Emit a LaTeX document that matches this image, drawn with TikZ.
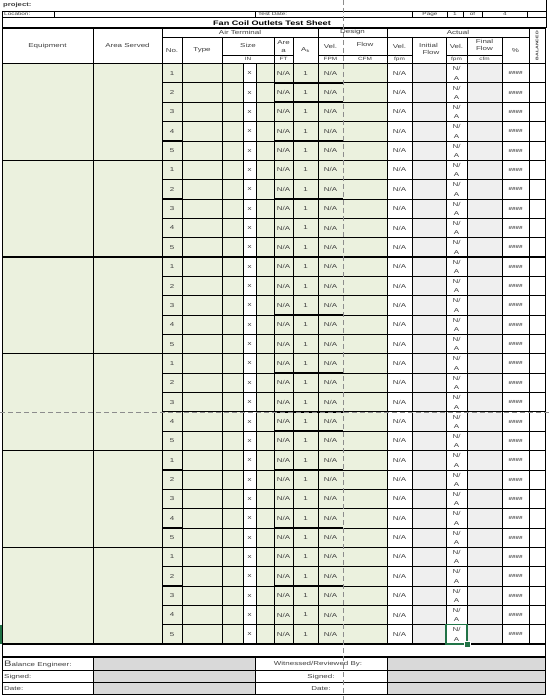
\documentclass[tikz,border=0pt]{standalone}
\usepackage{fontspec}
\setmainfont{Liberation Sans}[FakeStretch=1.4]
\definecolor{cgreen}{HTML}{EBF1DE}
\definecolor{cgray}{HTML}{EFEFEF}
\definecolor{cdgray}{HTML}{D9D9D9}
\definecolor{txt}{HTML}{3F3F3F}
\definecolor{xlgreen}{HTML}{217346}
\definecolor{pagebrk}{HTML}{8C8C8C}
\begin{document}
\begin{tikzpicture}[x=1pt,y=-1pt,
  gl/.style={line width=0.7pt,black},
  ml/.style={line width=1.0pt,black},
  tl/.style={line width=1.4pt,black},
  t/.style={font=\fontsize{5.7}{6}\selectfont,text=txt,inner sep=0pt},
  ts/.style={font=\fontsize{4.6}{5}\selectfont,text=txt,inner sep=0pt},
  tt/.style={font=\bfseries\fontsize{6.5}{7}\selectfont,text=black,inner sep=0pt},
]
\useasboundingbox (0,0) rectangle (550,700);
\fill[white] (0,0) rectangle (550,700);

% ---------- fills ----------
\fill[cgreen] (2,63.5) rectangle (243,644);
\fill[cgreen] (256,63.5) rectangle (387,644);
\fill[cgray] (412,63.5) rectangle (446,644);
\fill[cgray] (467,63.5) rectangle (502,644);
\fill[cdgray] (93,657) rectangle (255,694.5);
\fill[cdgray] (387,657) rectangle (545,694.5);

% ---------- top rows ----------
\draw[gl] (2,11) -- (546,11);
\draw[gl] (2,17.5) -- (546,17.5);
\foreach \xx in {54,255,412,447,463,482,527} \draw[gl] (\xx,11) -- (\xx,17.5);
\draw[gl] (546,0) -- (546,28);
\draw[gl] (2,11) -- (2,694.5);
\draw[tl] (2,28) -- (546,28);

% ---------- header grid ----------
\foreach \xx in {93,318,387,529} \draw[gl] (\xx,28) -- (\xx,644);
\draw[ml] (162,28) -- (162,644);
\draw[gl] (545,28) -- (545,694.5);
\draw[gl] (162,37) -- (529,37);
\foreach \xx in {274,293,412,446,467,502} \draw[gl] (\xx,37) -- (\xx,644);
\foreach \xx in {182,222} \draw[ml] (\xx,37) -- (\xx,644);
\foreach \xx in {243,256} \draw[gl] (\xx,63.5) -- (\xx,644);
\draw[gl] (222,55) -- (293,55);
\draw[gl] (318,55) -- (412,55);
\draw[gl] (446,55) -- (502,55);
\draw[tl] (2,63.5) -- (545,63.5);

% ---------- data row lines ----------
\foreach \k in {1,...,30} {
  \pgfmathsetmacro{\yy}{63.5+19.35*\k}
  \pgfmathtruncatemacro{\m}{mod(\k,5)}
  \ifnum\m=0
    \draw[tl] (2,\yy) -- (545,\yy);
  \else
    \draw[gl] (162,\yy) -- (545,\yy);
    \draw[tl] (274,\yy) -- (343,\yy);
    \draw[ml] (162,\yy) -- (182,\yy);
  \fi
}

% ---------- bottom block ----------
\draw[tl] (2,657) -- (545,657);
\foreach \yy in {670.5,682.5,694.5} \draw[gl] (2,\yy) -- (545,\yy);
\foreach \xx in {93,255,387} \draw[gl] (\xx,657) -- (\xx,694.5);

% ---------- page break lines ----------
\draw[pagebrk,line width=0.7pt,dash pattern=on 5pt off 3pt] (343,0) -- (343,700);
\draw[pagebrk,line width=0.7pt,dash pattern=on 5pt off 3pt] (0,412) -- (550,412);

% ---------- top texts ----------
\node[t,font=\bfseries\fontsize{5.5}{6}\selectfont,anchor=west] (proj) at (3,5) {project:};
\node[ts,anchor=west] (loc) at (4,14.3) {Location:};
\node[ts,anchor=west] (tdate) at (258,14.3) {Test Date:};
\node[ts] (page) at (430,14.3) {Page};
\node[ts] (pg1) at (455,14.3) {1};
\node[ts] (pgof) at (472.5,14.3) {of};
\node[ts] (pg4) at (505,14.3) {4};
\node[tt] (title) at (272,23) {Fan Coil Outlets Test Sheet};

% ---------- header texts ----------
\node[t] (hequip) at (47.5,45.75) {Equipment};
\node[t] (harea) at (127.5,45.75) {Area Served};
\node[t] (hair) at (240,32.5) {Air Terminal};
\node[t] (hdes) at (352.5,32.5) {Design};
\node[t] (hact) at (458,32.5) {Actual};
\node[t] (hno) at (172,50.25) {No.};
\node[t] (htype) at (202,50.25) {Type};
\node[t] (hsize) at (248,45.5) {Size};
\node[ts] (hin) at (248,59.3) {IN};
\node[t] (hare) at (283.5,43) {Are};
\node[t] (harea2) at (283.5,50.5) {a};
\node[ts] (hft) at (283.5,59.3) {FT};
\node[t] (hak) at (305.5,50.25) {A\textsubscript{k}};
\node[t] (hvel1) at (330.5,46) {Vel.};
\node[ts] (hfpm1) at (330.5,59.3) {FPM};
\node[t] (hflow) at (365,44) {Flow};
\node[ts] (hcfm) at (365,59.3) {CFM};
\node[t] (hvel2) at (399.5,46) {Vel.};
\node[ts] (hfpm2) at (399.5,59.3) {fpm};
\node[t] (hinit) at (428.5,45) {Initial};
\node[t] (hinit2) at (431,52) {Flow};
\node[t] (hvel3) at (456.5,46) {Vel.};
\node[ts] (hfpm3) at (456.5,59.3) {fpm};
\node[t] (hfin) at (484.5,41.5) {Final};
\node[t] (hfin2) at (484.5,48.5) {Flow};
\node[ts] (hcfm2) at (484.5,59.3) {cfm};
\node[t] (hpct) at (515.5,50.25) {\%};
\node[ts,font=\bfseries\fontsize{3.7}{4}\selectfont,rotate=90] (hbal) at (537,45.75) {BALANCED};

% ---------- data texts ----------
\foreach \k in {0,...,29} {
  \pgfmathsetmacro{\yc}{63.5+19.35*\k+9.7}
  \pgfmathsetmacro{\ya}{63.5+19.35*\k+5.2}
  \pgfmathsetmacro{\yb}{63.5+19.35*\k+14.6}
  \pgfmathtruncatemacro{\num}{mod(\k,5)+1}
  \node[t] (no\k) at (172,\yc) {\num};
  \node[t] (x\k) at (249.5,\yc) {x};
  \node[t] (ar\k) at (283.5,\yc) {N/A};
  \node[t] (ak\k) at (305.5,\yc) {1};
  \node[t] (dv\k) at (330.5,\yc) {N/A};
  \node[t] (av\k) at (399.5,\yc) {N/A};
  \node[t] (awa\k) at (456.5,\ya) {N/};
  \node[t] (awb\k) at (456.5,\yb) {A};
  \node[t,font=\bfseries\fontsize{4.5}{5}\selectfont] (pc\k) at (515.5,\yc) {\#\#\#\#};
}

% ---------- bottom texts ----------
\node[t,anchor=base west] (beng) at (4,666) {{\fontsize{8}{8}\selectfont B}alance Engineer:};
\node[t,anchor=west] (bsig) at (4,676.7) {Signed:};
\node[t,anchor=west] (bdate) at (4,688.6) {Date:};
\node[t] (wit) at (318,663.8) {Witnessed/Reviewed By:};
\node[t] (wsig) at (321,676.7) {Signed:};
\node[t] (wdate) at (321,688.6) {Date:};

% ---------- selection ----------
\draw[xlgreen,line width=1.6pt] (446,624.65) rectangle (467,644);
\fill[white] (463.5,640.5) rectangle (470.5,647.5);
\fill[xlgreen] (464.5,641.5) rectangle (469.5,646.5);
\draw[xlgreen,line width=1.6pt] (0.8,624.65) -- (0.8,644);
\end{tikzpicture}
\end{document}
